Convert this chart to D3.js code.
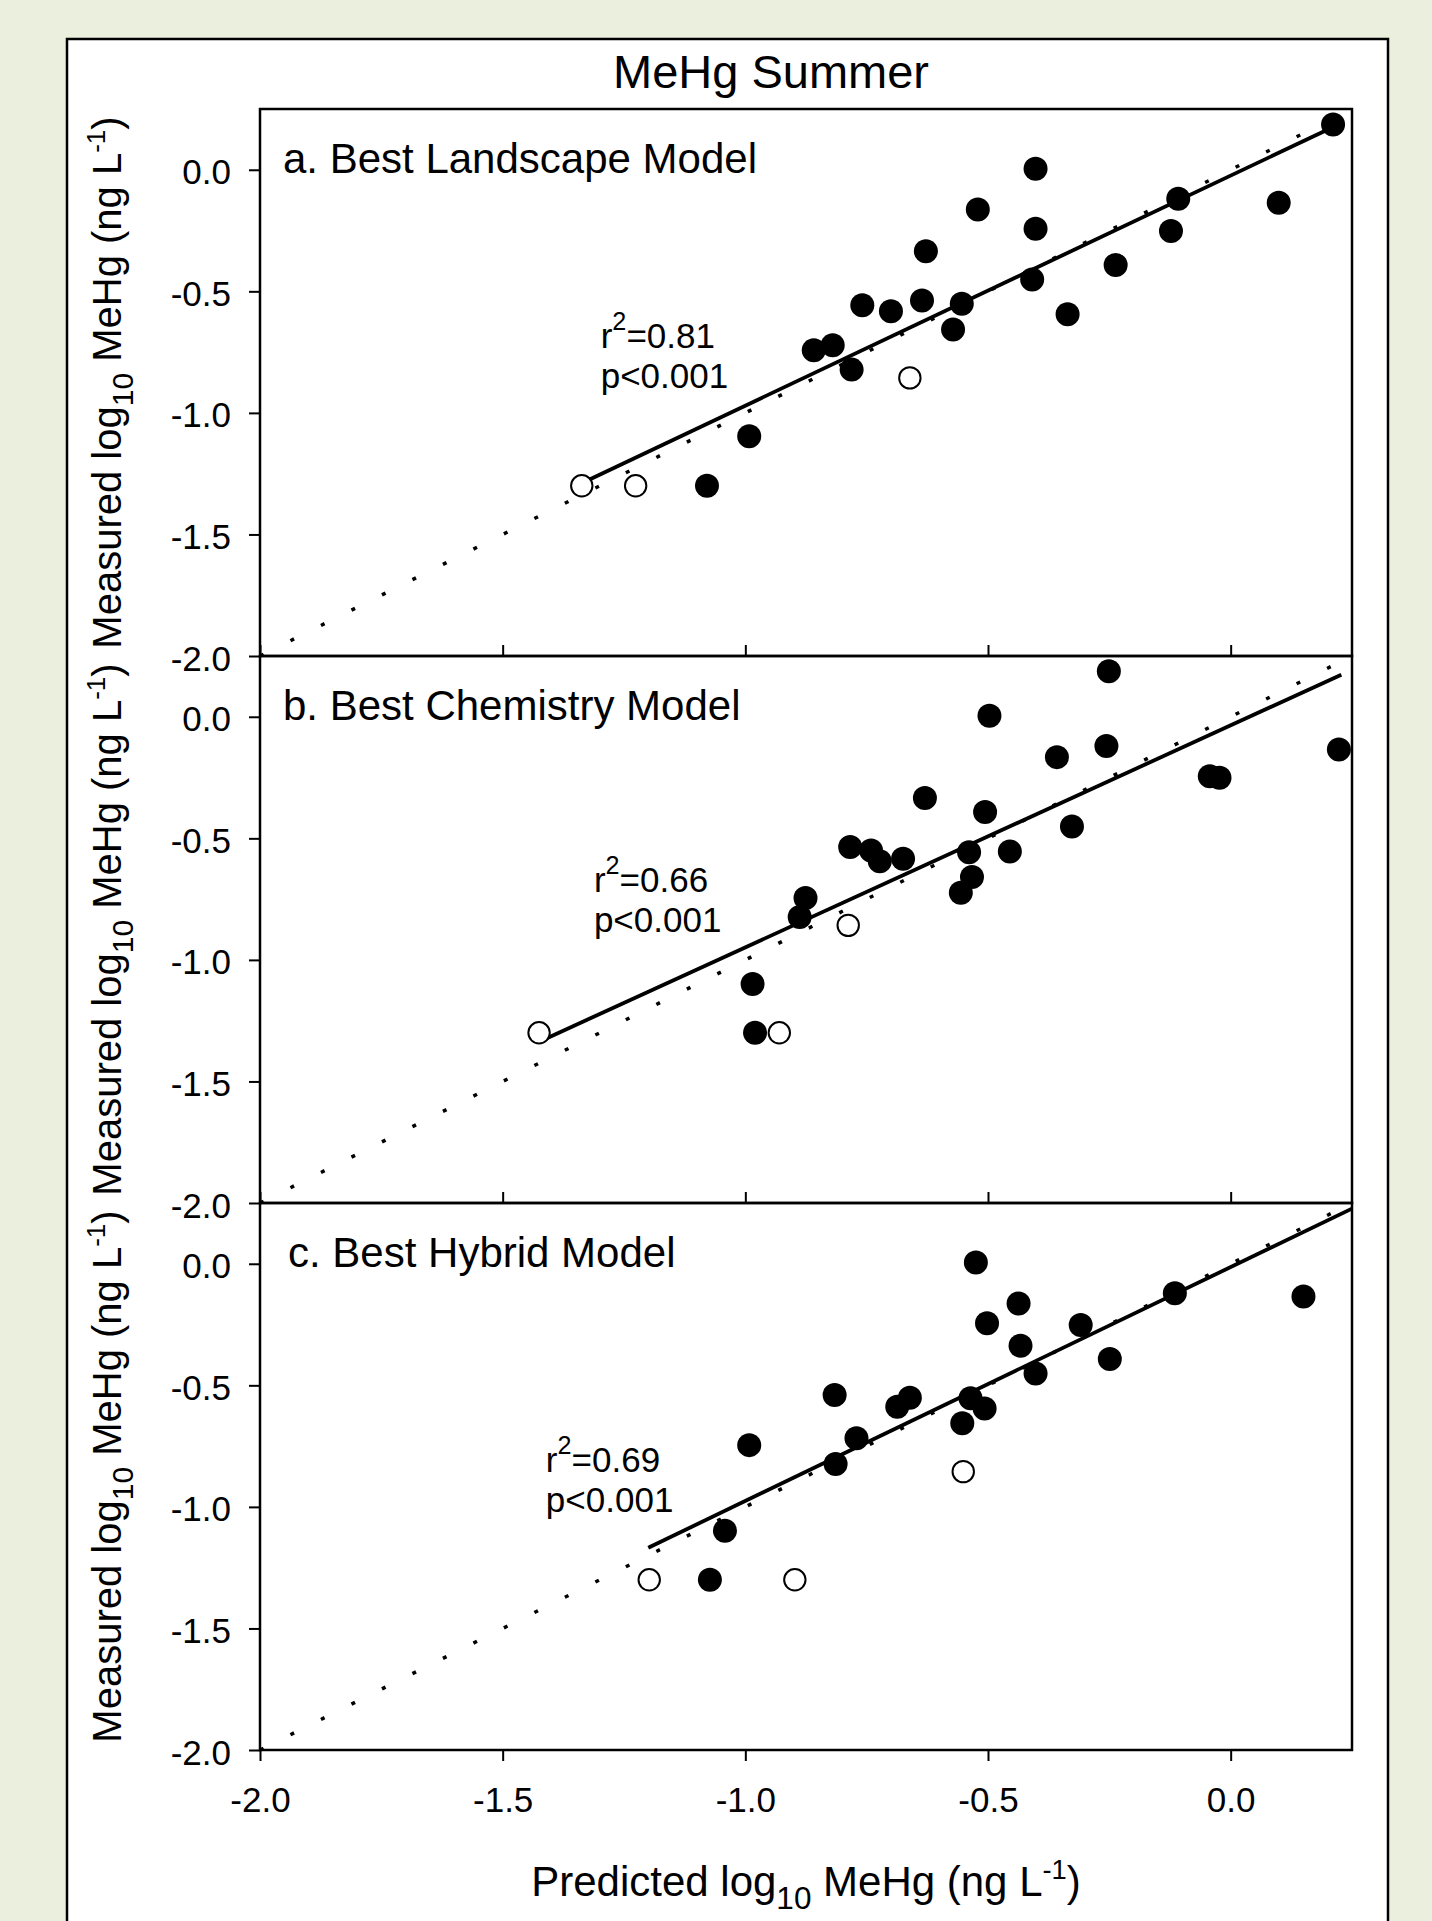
<!DOCTYPE html>
<html>
<head>
<meta charset="utf-8">
<script src="https://cdnjs.cloudflare.com/ajax/libs/d3/7.8.5/d3.min.js"></script>
<style>
  html, body { margin: 0; padding: 0; background: #ebefde; }
  svg { display: block; }
  text { font-family: "Liberation Sans", Arial, sans-serif; fill: #000; }
</style>
</head>
<body>
<div class="chart"></div>
<script>
// points are [predicted, measured] in log10 ng/L
var landscapeFilled = [[-1.079, -1.30], [-0.992, -1.096], [-0.859, -0.742], [-0.820, -0.722], [-0.781, -0.822],
    [-0.759, -0.557], [-0.700, -0.582], [-0.636, -0.538], [-0.628, -0.335], [-0.554, -0.551], [-0.572, -0.657],
    [-0.521, -0.163], [-0.402, 0.004], [-0.402, -0.243], [-0.409, -0.451], [-0.336, -0.594], [-0.237, -0.392],
    [-0.123, -0.252], [-0.108, -0.119], [0.099, -0.136], [0.211, 0.186]];
var landscapeOpen = [[-1.337, -1.30], [-1.226, -1.30], [-0.661, -0.856]];
var landscapeFit = [[-1.321, -1.274], [0.208, 0.173]];

var chemistryFilled = [[-0.980, -1.30], [-0.985, -1.099], [-0.888, -0.824], [-0.876, -0.745], [-0.784, -0.536],
    [-0.741, -0.550], [-0.723, -0.594], [-0.675, -0.584], [-0.630, -0.334], [-0.556, -0.724], [-0.533, -0.659],
    [-0.539, -0.557], [-0.506, -0.392], [-0.497, 0.004], [-0.455, -0.554], [-0.358, -0.166], [-0.327, -0.451],
    [-0.256, -0.120], [-0.251, 0.187], [-0.043, -0.245], [-0.023, -0.251], [0.223, -0.135]];
var chemistryOpen = [[-1.425, -1.30], [-0.930, -1.30], [-0.788, -0.858]];
var chemistryFit = [[-1.41, -1.323], [0.228, 0.173]];

var hybridFilled = [[-1.073, -1.30], [-1.042, -1.098], [-0.992, -0.746], [-0.814, -0.824], [-0.771, -0.718],
    [-0.816, -0.540], [-0.687, -0.588], [-0.661, -0.551], [-0.553, -0.656], [-0.536, -0.553], [-0.507, -0.595],
    [-0.525, 0.005], [-0.502, -0.245], [-0.437, -0.163], [-0.433, -0.337], [-0.402, -0.451], [-0.309, -0.252],
    [-0.249, -0.392], [-0.115, -0.121], [0.150, -0.135]];
var hybridOpen = [[-1.198, -1.30], [-0.898, -1.30], [-0.551, -0.855]];
var hybridFit = [[-1.200, -1.168], [0.25, 0.227]];

var oneToOne = [[-2, -2], [0.25, 0.25]];

var panelNames = ["a. Best Landscape Model", "b. Best Chemistry Model", "c. Best Hybrid Model"];
var r2Values = ["0.81", "0.66", "0.69"];
var pValues = ["p<0.001", "p<0.001", "p<0.001"];
// where the r2 / p text starts, in data units
var statAnchors = [[-1.298, -0.735], [-1.312, -0.721], [-1.411, -0.858]];
var tickValues = [-2.0, -1.5, -1.0, -0.5, 0.0];

var panels = [
    { filled: landscapeFilled, open: landscapeOpen, fit: landscapeFit, labelX: 283 },
    { filled: chemistryFilled, open: chemistryOpen, fit: chemistryFit, labelX: 283 },
    { filled: hybridFilled, open: hybridOpen, fit: hybridFit, labelX: 288 }
];

var W = 1432, H = 1921;
var left = 260, right = 1352;
var panelTop = 109, panelH = 547;

var svg = d3.select(".chart")
    .append("svg")
    .attr("width", W)
    .attr("height", H);

// white figure box
svg.append("rect")
    .attr("x", 67).attr("y", 39)
    .attr("width", 1321).attr("height", 1920)
    .attr("fill", "#fff")
    .attr("stroke", "#000")
    .attr("stroke-width", 2.5);

var x = d3.scaleLinear().domain([-2, 0.25]).range([left, right]);
var fmt = function (d) { return d.toFixed(1) };

// text with sub / superscripts
function richText(sel, parts, size) {
    var shift = 0;
    parts.forEach(function (p) {
        var target = p.sub ? size * 0.3 : (p.sup ? -size * (p.raise || 0.4) : 0);
        var ts = sel.append("tspan").text(p.t).attr("dy", target - shift);
        if (p.sub || p.sup) ts.attr("font-size", size * (p.scale || (p.sub ? 0.75 : 0.65)));
        shift = target;
    });
}

var yTitle = [{ t: "Measured log" }, { t: "10", sub: true }, { t: " MeHg (ng L" }, { t: "-1", sup: true }, { t: ")" }];
var xTitle = [{ t: "Predicted log" }, { t: "10", sub: true }, { t: " MeHg (ng L" }, { t: "-1", sup: true }, { t: ")" }];

var line = d3.line();

panels.forEach(function (p, i) {
    var top = panelTop + i * panelH;
    var y = d3.scaleLinear().domain([-2, 0.25]).range([top + panelH, top]);
    var g = svg.append("g");
    line.x(function (d) { return x(d[0]) }).y(function (d) { return y(d[1]) });

    //y axis
    var yAxis = g.append("g")
        .attr("transform", "translate(" + left + ",0)")
        .call(d3.axisLeft(y).tickValues(tickValues).tickSize(11).tickPadding(18).tickFormat(fmt));
    yAxis.select(".domain").remove();
    yAxis.selectAll("line").attr("stroke-width", 2);
    yAxis.selectAll("text")
        .attr("font-size", 35)
        .attr("dy", "0.4em");

    //x axis
    var xAxis = g.append("g")
        .attr("transform", "translate(0," + (top + panelH) + ")");
    if (i < 2) {
        xAxis.call(d3.axisBottom(x).tickValues(tickValues).tickSize(-11).tickFormat(""));
    } else {
        xAxis.call(d3.axisBottom(x).tickValues(tickValues).tickSize(11).tickFormat(fmt));
        xAxis.selectAll("text")
            .attr("font-size", 35)
            .attr("y", 62)
            .attr("dy", null);
    }
    xAxis.select(".domain").remove();
    xAxis.selectAll("line").attr("stroke-width", 2);

    // frame
    g.append("rect")
        .attr("x", left).attr("y", top)
        .attr("width", right - left).attr("height", panelH)
        .attr("fill", "none")
        .attr("stroke", "#000")
        .attr("stroke-width", 2.5);

    // 1:1 dotted line
    g.append("path")
        .datum(oneToOne)
        .attr("d", line)
        .attr("fill", "none")
        .attr("stroke", "#000")
        .attr("stroke-width", 3.5)
        .attr("stroke-dasharray", "4 30.1");

    // regression line
    g.append("path")
        .datum(p.fit)
        .attr("d", line)
        .attr("fill", "none")
        .attr("stroke", "#000")
        .attr("stroke-width", 3.8);

    g.selectAll("circle.filled")
        .data(p.filled)
        .join("circle")
        .attr("class", "filled")
        .attr("cx", function (d) { return x(d[0]) })
        .attr("cy", function (d) { return y(d[1]) })
        .attr("r", 12)
        .attr("fill", "#000");

    g.selectAll("circle.open")
        .data(p.open)
        .join("circle")
        .attr("class", "open")
        .attr("cx", function (d) { return x(d[0]) })
        .attr("cy", function (d) { return y(d[1]) })
        .attr("r", 10.7)
        .attr("fill", "#fff")
        .attr("stroke", "#000")
        .attr("stroke-width", 2);

    // panel name
    g.append("text")
        .attr("x", p.labelX)
        .attr("y", y(0) + 3)
        .attr("font-size", 42)
        .text(panelNames[i]);

    // stats
    var sx = x(statAnchors[i][0]), sy = y(statAnchors[i][1]);
    var r2 = g.append("text").attr("x", sx).attr("y", sy).attr("font-size", 35);
    richText(r2, [{ t: "r" }, { t: "2", sup: true, scale: 0.72, raise: 0.52 }, { t: "=" + r2Values[i] }], 35);
    g.append("text").attr("x", sx).attr("y", sy + 40).attr("font-size", 35).text(pValues[i]);

    // y title
    var yt = g.append("text")
        .attr("transform", "translate(121," + (top + panelH / 2) + ") rotate(-90)")
        .attr("text-anchor", "middle")
        .attr("font-size", 40);
    richText(yt, yTitle, 40);
});

// x title
var xt = svg.append("text")
    .attr("x", (left + right) / 2)
    .attr("y", 1896)
    .attr("text-anchor", "middle")
    .attr("font-size", 42);
richText(xt, xTitle, 42);

// figure title
svg.append("text")
    .attr("x", 771)
    .attr("y", 88)
    .attr("text-anchor", "middle")
    .attr("font-size", 47)
    .text("MeHg Summer");
</script>
</body>
</html>
